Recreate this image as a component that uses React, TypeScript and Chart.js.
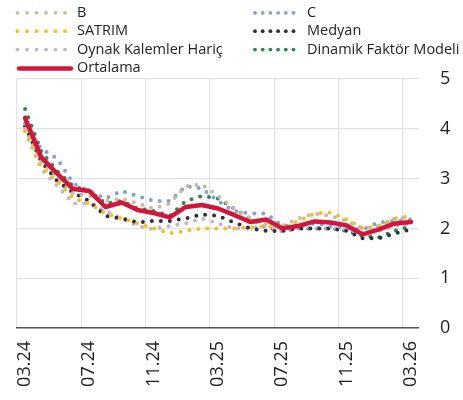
import React, { useEffect, useRef } from 'react';
import { Chart, registerables } from 'chart.js';

Chart.register(...registerables);

const labels = [
  '03.24', '04.24', '05.24', '06.24', '07.24', '08.24', '09.24', '10.24', '11.24', '12.24',
  '01.25', '02.25', '03.25', '04.25', '05.25', '06.25', '07.25', '08.25', '09.25', '10.25',
  '11.25', '12.25', '01.26', '02.26', '03.26',
];

const seriesB = [4.0, 3.35, 3.05, 2.7, 2.65, 2.55, 2.6, 2.5, 2.4, 2.5, 2.85, 2.88, 2.65, 2.4, 2.2, 2.1, 2.05, 2.2, 2.3, 2.25, 2.15, 2.0, 2.05, 2.2, 2.22];
const seriesC = [4.1, 3.6, 3.4, 2.9, 2.75, 2.6, 2.75, 2.65, 2.55, 2.55, 2.85, 2.8, 2.55, 2.35, 2.3, 2.3, 2.05, 2.05, 2.1, 2.05, 2.0, 1.98, 2.12, 2.15, 2.18];
const seriesSatrim = [3.95, 3.25, 2.95, 2.6, 2.5, 2.3, 2.2, 2.1, 2.0, 1.9, 1.95, 2.0, 2.0, 2.0, 2.02, 2.05, 2.0, 2.15, 2.3, 2.32, 2.18, 2.0, 2.05, 2.2, 2.25];
const seriesMedyan = [4.05, 3.35, 2.95, 2.72, 2.55, 2.25, 2.2, 2.12, 2.15, 2.15, 2.2, 2.28, 2.25, 2.12, 2.0, 1.95, 1.95, 2.0, 2.0, 2.0, 1.95, 1.8, 1.8, 1.9, 1.98];
const seriesOynak = [3.95, 3.2, 2.85, 2.5, 2.5, 2.35, 2.2, 2.05, 1.98, 2.05, 2.1, 2.2, 2.1, 2.0, 2.0, 2.05, 1.95, 2.0, 2.02, 2.0, 1.98, 1.9, 1.95, 2.05, 2.1];
const seriesDinamik = [4.4, 3.55, 3.15, 2.85, 2.75, 2.5, 2.55, 2.4, 2.35, 2.25, 2.55, 2.65, 2.6, 2.4, 2.2, 2.02, 1.95, 2.0, 2.0, 2.0, 1.95, 1.85, 1.82, 1.95, 2.05];
const seriesOrtalama = [4.22, 3.43, 3.1, 2.79, 2.75, 2.43, 2.52, 2.37, 2.31, 2.22, 2.43, 2.47, 2.4, 2.27, 2.13, 2.18, 2.0, 2.05, 2.14, 2.12, 2.06, 1.88, 1.98, 2.1, 2.13];

const seriesNames = ['B', 'C', 'SATRIM', 'Medyan', 'Oynak Kalemler Hariç', 'Dinamik Faktör Modeli', 'Ortalama'];
const seriesColors = ['#cbbb9c', '#7ea2d2', '#f4c21a', '#2a3142', '#c6b2d2', '#27894b', '#d5143c'];
const yTicks = [0, 1, 2, 3, 4, 5];

const FONT = '"Open Sans", "Noto Sans", sans-serif';

const legendPlugin = {
  id: 'gridLegend',
  afterDraw(chart: any) {
    const ctx = chart.ctx as CanvasRenderingContext2D;
    ctx.save();
    ctx.font = `14.5px ${FONT}`;
    ctx.textBaseline = 'alphabetic';
    ctx.textAlign = 'left';
    chart.data.datasets.forEach((ds: any, i: number) => {
      const col = i % 2;
      const row = Math.floor(i / 2);
      const baseline = 17 + row * 18.4;
      const cy = baseline - 4.2;
      const textX = col === 0 ? 77 : 307;
      if (ds.borderDash && ds.borderDash.length) {
        const x0 = col === 0 ? 17.5 : 255;
        const step = col === 0 ? 9.5 : 7.7;
        ctx.fillStyle = ds.borderColor;
        for (let k = 0; k < 6; k++) {
          ctx.beginPath();
          ctx.arc(x0 + k * step, cy, 1.9, 0, Math.PI * 2);
          ctx.fill();
        }
      } else {
        ctx.strokeStyle = ds.borderColor;
        ctx.lineWidth = 4.5;
        ctx.lineCap = 'round';
        ctx.beginPath();
        ctx.moveTo(19, cy + 0.5);
        ctx.lineTo(71, cy + 0.5);
        ctx.stroke();
      }
      ctx.fillStyle = '#222';
      ctx.fillText(ds.label, textX, baseline);
    });
    ctx.restore();
  },
};

export default function App() {
  const ref = useRef<HTMLCanvasElement | null>(null);

  useEffect(() => {
    if (!ref.current) return;
    const values = [seriesB, seriesC, seriesSatrim, seriesMedyan, seriesOynak, seriesDinamik, seriesOrtalama];
    const datasets = values.map((data, i) => {
      const isAvg = i === values.length - 1;
      return {
        label: seriesNames[i],
        data,
        borderColor: seriesColors[i],
        backgroundColor: seriesColors[i],
        borderWidth: isAvg ? 4.5 : 4,
        borderDash: isAvg ? [] : [0, 9],
        borderCapStyle: 'round' as const,
        borderJoinStyle: 'round' as const,
        pointRadius: 0,
        tension: 0,
        fill: false,
        order: isAvg ? 0 : 1,
      };
    });

    const chart = new Chart(ref.current, {
      type: 'line',
      data: { labels, datasets },
      options: {
        animation: false,
        responsive: false,
        devicePixelRatio: 1,
        layout: { padding: { top: 79, left: 17, right: 0, bottom: 0 } },
        plugins: { legend: { display: false }, tooltip: { enabled: false } },
        scales: {
          x: {
            type: 'category',
            offset: true,
            afterFit: (scale: any) => { scale.height = 72; },
            grid: {
              offset: true,
              drawTicks: false,
              lineWidth: 1.2,
              color: (ctx: any) => (ctx.index % 4 === 0 ? '#e2e2e2' : 'rgba(0,0,0,0)'),
            },
            border: { display: true, color: '#555', width: 1.5 },
            ticks: {
              autoSkip: false,
              maxRotation: 90,
              minRotation: 90,
              padding: 13,
              color: '#1e1e1e',
              font: { family: FONT, size: 18 },
              callback: (_v: any, idx: number) => (idx % 4 === 0 ? labels[idx] : ''),
            },
          },
          y: {
            position: 'right',
            min: yTicks[0],
            max: yTicks[yTicks.length - 1],
            afterFit: (scale: any) => { scale.width = 44; },
            afterBuildTicks: (scale: any) => { scale.ticks = yTicks.map((v) => ({ value: v })); },
            grid: { drawTicks: false, color: '#e2e2e2', lineWidth: 1.2 },
            border: { display: false },
            ticks: {
              padding: 21,
              color: '#1e1e1e',
              font: { family: FONT, size: 18 },
            },
          },
        },
      },
      plugins: [legendPlugin],
    });
    return () => chart.destroy();
  }, []);

  return (
    <div style={{ position: 'absolute', left: 0, top: 0, width: 463, height: 400, background: '#fff' }}>
      <canvas ref={ref} width={463} height={400} style={{ display: 'block' }} />
    </div>
  );
}
